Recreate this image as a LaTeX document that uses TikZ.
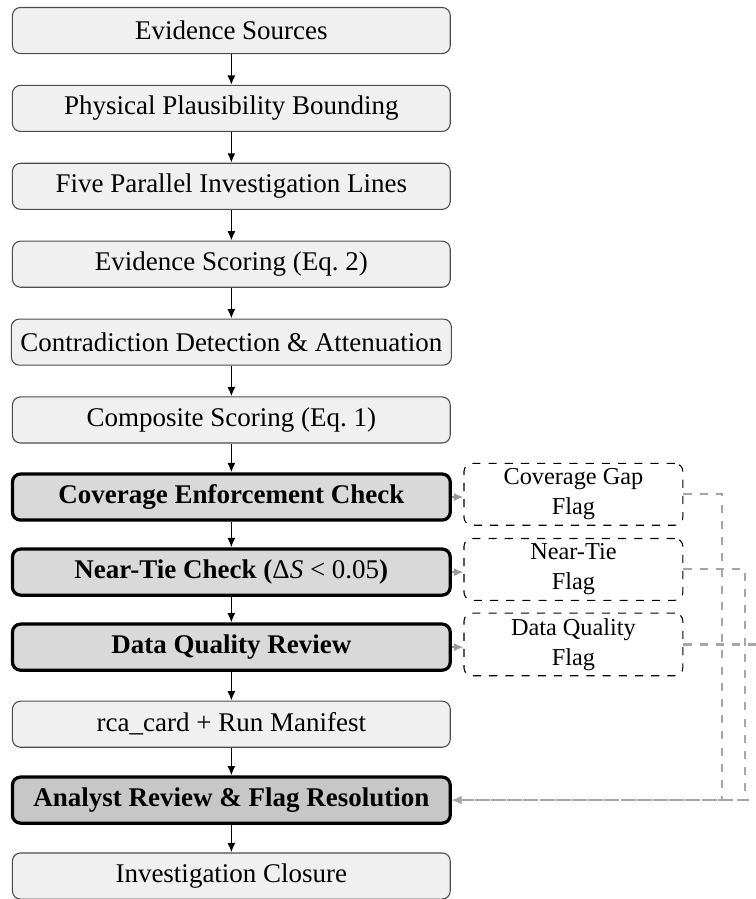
\documentclass[tikz,border=0pt]{standalone}
\usepackage{fontspec}
\setmainfont{Liberation Serif}
\usetikzlibrary{positioning,arrows.meta}

\begin{document}
\begin{tikzpicture}[
  node distance=0.4cm,
  stage/.style={draw=black!70, fill=black!6, rounded corners=3pt, inner ysep=2pt,
    minimum width=5.7cm, minimum height=0.6cm},
  check/.style={stage, draw=black, very thick, fill=black!15, font=\bfseries},
  flagbox/.style={draw, dashed, rounded corners=3pt, minimum width=2.85cm,
    inner ysep=2pt, align=center, font=\small},
  flow/.style={semithick, -{Latex[length=3.5pt,width=3pt]}},
  toflag/.style={black!40, semithick, -{Latex[length=3.5pt,width=3pt]}},
  back/.style={black!35, thick, dashed, -{Latex[length=3.5pt,width=3pt]}}]
\useasboundingbox (-85.7pt,11.3pt) rectangle (194.3pt,-321.7pt);
% main pipeline
\node[stage] (src) at (0,0) {Evidence Sources};
\node[stage, below=of src] (bound) {Physical Plausibility Bounding};
\node[stage, below=of bound] (lines) {Five Parallel Investigation Lines};
\node[stage, below=of lines] (evid) {Evidence Scoring (Eq.~2)};
\node[stage, below=of evid] (contra) {Contradiction Detection \& Attenuation};
\node[stage, below=of contra] (comp) {Composite Scoring (Eq.~1)};
\node[check, below=0.375cm of comp] (cov) {Coverage Enforcement Check};
\node[check, below=0.335cm of cov] (tie) {Near-Tie Check ({\mdseries Δ\textit{S} < 0.05})};
\node[check, below=0.335cm of tie] (dq) {Data Quality Review};
\node[stage, below=0.375cm of dq] (card) {rca\_card + Run Manifest};
\node[check, fill=black!22, below=0.36cm of card] (analyst) {Analyst Review \& Flag Resolution};
\node[stage, below=0.36cm of analyst] (close) {Investigation Closure};
% flags
\node[flagbox, right=0.15cm of cov, yshift=1pt] (covflag) {Coverage Gap\\Flag};
\node[flagbox, right=0.15cm of tie, yshift=1pt] (tieflag) {Near-Tie\\Flag};
\node[flagbox, right=0.15cm of dq, yshift=1pt] (dqflag) {Data Quality\\Flag};
% arrows
\foreach \a/\b in {src/bound, bound/lines, lines/evid, evid/contra, contra/comp,
    comp/cov, cov/tie, tie/dq, dq/card, card/analyst, analyst/close}
  \draw[flow] (\a) -- (\b);
\foreach \a/\b in {cov/covflag, tie/tieflag, dq/dqflag}
  \draw[toflag] (\a.east) -- (\b.west |- \a.east);
\foreach \f/\d in {covflag/0.5cm, tieflag/0.8cm, dqflag/1.1cm}
  \draw[back] (\f.east) -- ++(\d,0) |- (analyst.east); % back to review
\end{tikzpicture}
\end{document}
